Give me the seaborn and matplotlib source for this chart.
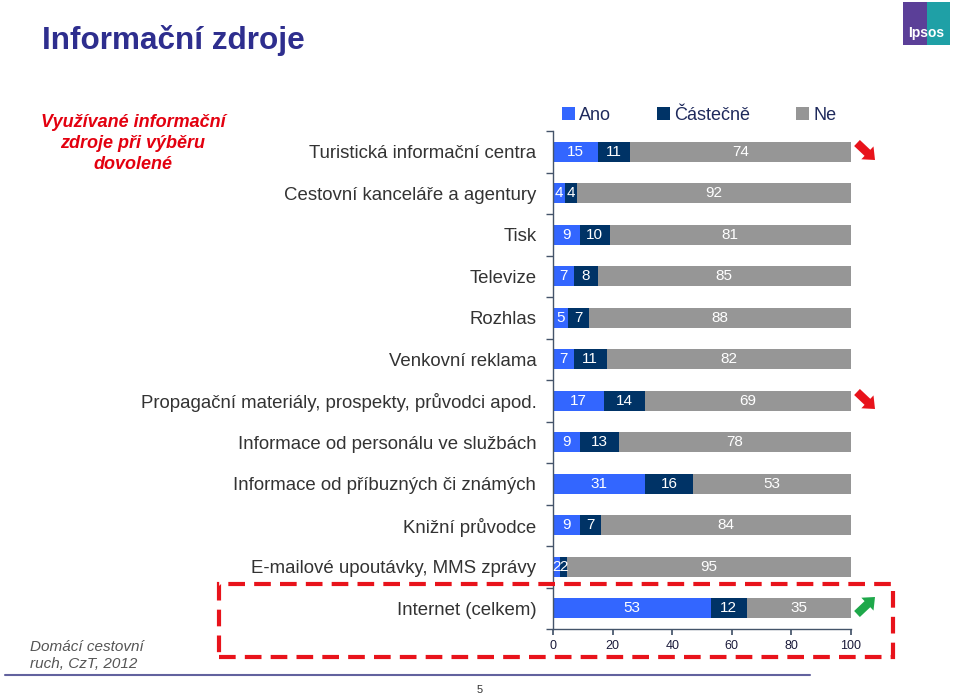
import numpy as np
import pandas as pd
import matplotlib
matplotlib.use('Agg')
import matplotlib.pyplot as plt
import seaborn as sns
from matplotlib.patches import Rectangle, FancyArrowPatch, Patch
from matplotlib.lines import Line2D

# data (shares in %)
kategorie = [
    'Turistická informační centra',
    'Cestovní kanceláře a agentury',
    'Tisk',
    'Televize',
    'Rozhlas',
    'Venkovní reklama',
    'Propagační materiály, prospekty, průvodci apod.',
    'Informace od personálu ve službách',
    'Informace od příbuzných či známých',
    'Knižní průvodce',
    'E-mailové upoutávky, MMS zprávy',
    'Internet (celkem)',
]
ano = [15, 4, 9, 7, 5, 7, 17, 9, 31, 9, 2.4, 53]
castecne = [11, 4, 10, 8, 7, 11, 14, 13, 16, 7, 2.2, 12]
ne = [74, 92, 81, 85, 88, 82, 69, 78, 53, 84, 95.4, 35]
serie = ['Ano', 'Částečně', 'Ne']
barvy = ['#3366FF', '#003366', '#969696']

df = pd.DataFrame({'kat': kategorie, 'Ano': ano, 'Částečně': castecne, 'Ne': ne})
df['zac_c'] = df['Ano']
df['zac_n'] = df['Ano'] + df['Částečně']

sns.set_theme(style='white')
plt.rcParams['font.family'] = ['Liberation Sans', 'DejaVu Sans']

W, H = 960, 696
fig = plt.figure(figsize=(W / 100, H / 100), dpi=100)


def fx(x):
    return x / W


def fy(y):
    return 1 - y / H


ax = fig.add_axes([fx(553), fy(629), fx(851) - fx(553), fy(131) - fy(629)])

starty = [None, df['zac_c'].to_numpy(), df['zac_n'].to_numpy()]
for s, c, st in zip(serie, barvy, starty):
    kw = {} if st is None else {'left': st}
    sns.barplot(data=df, x=s, y='kat', orient='y', color=c, saturation=1,
                width=0.47, errorbar=None, ax=ax, linewidth=0,
                edgecolor='none', **kw)

for cont, s in zip(ax.containers, serie):
    ax.bar_label(cont, labels=[f'{v:.0f}' for v in df[s]], label_type='center',
                 color='white', fontsize=11)

spina = '#44546A'
ax.set_xlim(0, 100)
ax.set_ylim(11.5, -0.5)
ax.set_xlabel('')
ax.set_ylabel('')
ax.set_xticks(range(0, 101, 20))
ax.set_yticks(np.arange(-0.5, 12, 1), minor=True)
ax.tick_params(axis='x', length=4, color=spina, direction='out', pad=4,
               labelsize=9, labelcolor='#1A1A3A', bottom=True)
ax.tick_params(axis='y', which='major', length=0, pad=12, labelsize=13.4,
               labelcolor='#333333')
ax.tick_params(axis='y', which='minor', length=5, color=spina, direction='out',
               left=True)
for k in ['top', 'right']:
    ax.spines[k].set_visible(False)
for k in ['left', 'bottom']:
    ax.spines[k].set_color(spina)
    ax.spines[k].set_linewidth(1)

# legend
uchyty = [Patch(facecolor=c, edgecolor='none') for c in barvy]
fig.legend(uchyty, serie, loc='center left', bbox_to_anchor=(fx(562), fy(115)),
           ncol=3, frameon=False, fontsize=13, handlelength=0.7,
           handleheight=0.7, handletextpad=0.25, columnspacing=2.55,
           labelcolor='#1F2A5C', borderaxespad=0, borderpad=0)

# titles and notes
fig.text(fx(42), fy(40), 'Informační zdroje', fontsize=22.7, fontweight='bold',
         color='#2E2E8E', va='center', ha='left')
fig.text(fx(133), fy(114), 'Využívané informační\nzdroje při výběru\ndovolené',
         fontsize=13, fontweight='bold', style='italic', color='#E3000F',
         ha='center', va='top', linespacing=1.31)
fig.text(fx(30), fy(640), 'Domácí cestovní\nruch, CzT, 2012', fontsize=11,
         style='italic', color='#555555', ha='left', va='top', linespacing=1.3)
fig.text(fx(480), fy(690), '5', fontsize=8, color='#333333', ha='center',
         va='center')

fig.add_artist(Line2D([fx(5), fx(810)], [fy(675), fy(675)], color='#62629E',
                      lw=1.5, transform=fig.transFigure))

# red dashed frame round the internet row
fig.add_artist(Rectangle((fx(219), fy(657)), fx(893) - fx(219), fy(584) - fy(657),
                         transform=fig.transFigure, fill=False,
                         edgecolor='#E8131B', lw=3, linestyle=(0, (4, 2.2))))

# trend arrows
sipky = [((857, 143), (875, 160), '#E8131B'),
         ((857, 392), (875, 409), '#E8131B'),
         ((857, 614), (875, 597), '#1EA84A')]
for a, b, c in sipky:
    fig.add_artist(FancyArrowPatch((fx(a[0]), fy(a[1])), (fx(b[0]), fy(b[1])),
                                   transform=fig.transFigure, color=c,
                                   arrowstyle='simple,head_length=0.5,head_width=0.85,tail_width=0.4',
                                   mutation_scale=15, lw=0, shrinkA=0, shrinkB=0))

# Ipsos logo
fig.add_artist(Rectangle((fx(903), fy(45)), fx(927) - fx(903), fy(2) - fy(45),
                         transform=fig.transFigure, color='#5B3F98', lw=0))
fig.add_artist(Rectangle((fx(927), fy(45)), fx(950) - fx(927), fy(2) - fy(45),
                         transform=fig.transFigure, color='#1FA0A6', lw=0))
fig.text(fx(926), fy(33), 'Ipsos', fontsize=10, fontweight='bold', color='white',
         ha='center', va='center')

fig.savefig('out.png', dpi=100)
